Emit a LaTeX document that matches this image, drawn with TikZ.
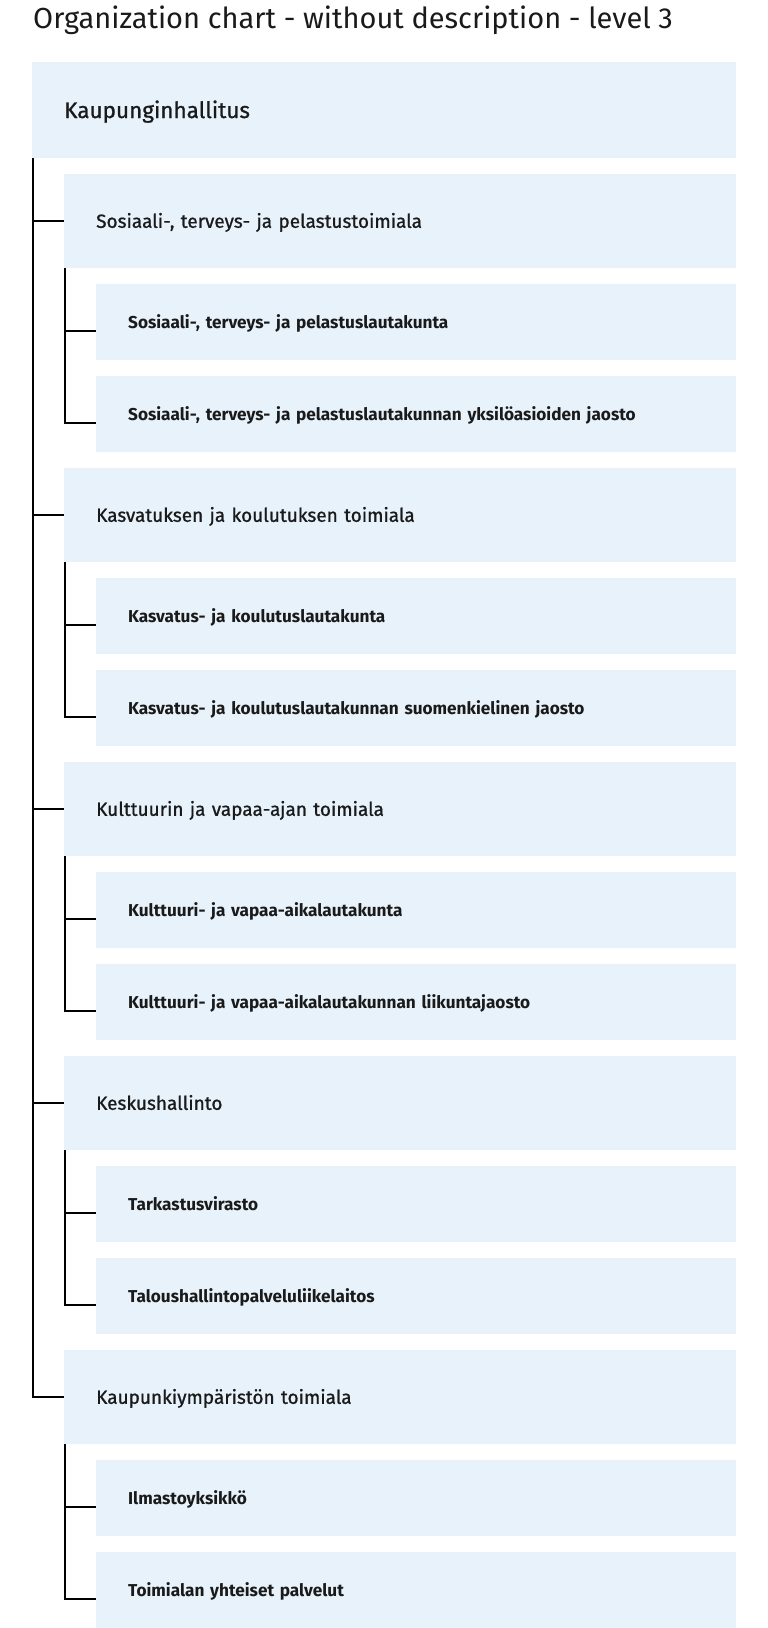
\documentclass[tikz,border=0pt]{standalone}
\usepackage{fontspec}
\setmainfont{Fira Sans}
\newfontfamily\midfont[FakeBold=0.9]{Fira Sans}
\usetikzlibrary{positioning,calc}
\definecolor{boxblue}{RGB}{231,242,251}
\definecolor{inkgray}{RGB}{26,26,26}

\begin{document}
\begin{tikzpicture}[x=1pt,y=-1pt,
    every node/.style={text=inkgray,align=left},
    unit/.style={fill=boxblue,anchor=north west,inner ysep=0pt,inner xsep=32pt,text depth=0pt},
    city/.style={unit,minimum height=96pt,text width=640pt,text height=15.6pt,font=\midfont\fontsize{22.5}{26}\selectfont},
    branch/.style={unit,minimum height=94pt,text width=608pt,text height=13.2pt,font=\midfont\fontsize{19}{22}\selectfont},
    board/.style={unit,minimum height=76pt,text width=576pt,text height=12.4pt,font=\bfseries\fontsize{17.2}{20}\selectfont},
    link/.style={black,line width=2pt}]

    \useasboundingbox (0,0) rectangle (768,1628);

    \node[anchor=base west,inner sep=0pt,font=\fontsize{29}{34}\selectfont] (title) at (33,28)
        {Organization chart - without description - level 3};

    % top level
    \node[city] (root) at (32,62) {Kaupunginhallitus};

    % divisions and their boards
    \node[branch] (sote) at (64,174) {Sosiaali-, terveys- ja pelastustoimiala};
    \node[board] (sote-a) at (96,284) {Sosiaali-, terveys- ja pelastuslautakunta};
    \node[board] (sote-b) at (96,376) {Sosiaali-, terveys- ja pelastuslautakunnan yksilöasioiden jaosto};

    \node[branch] (kasko) at (64,468) {Kasvatuksen ja koulutuksen toimiala};
    \node[board] (kasko-a) at (96,578) {Kasvatus- ja koulutuslautakunta};
    \node[board] (kasko-b) at (96,670) {Kasvatus- ja koulutuslautakunnan suomenkielinen jaosto};

    \node[branch] (kuva) at (64,762) {Kulttuurin ja vapaa-ajan toimiala};
    \node[board] (kuva-a) at (96,872) {Kulttuuri- ja vapaa-aikalautakunta};
    \node[board] (kuva-b) at (96,964) {Kulttuuri- ja vapaa-aikalautakunnan liikuntajaosto};

    \node[branch] (kesk) at (64,1056) {Keskushallinto};
    \node[board] (kesk-a) at (96,1166) {Tarkastusvirasto};
    \node[board] (kesk-b) at (96,1258) {Taloushallintopalveluliikelaitos};

    \node[branch] (kymp) at (64,1350) {Kaupunkiympäristön toimiala};
    \node[board] (kymp-a) at (96,1460) {Ilmastoyksikkö};
    \node[board] (kymp-b) at (96,1552) {Toimialan yhteiset palvelut};

    % trunk from the top level
    \draw[link] (root.south west) ++(1,0) |- ([yshift=-47pt]kymp.north west);
    \draw[link] ([yshift=-47pt]sote.north west) -- +(-32,0);
    \draw[link] ([yshift=-47pt]kasko.north west) -- +(-32,0);
    \draw[link] ([yshift=-47pt]kuva.north west) -- +(-32,0);
    \draw[link] ([yshift=-47pt]kesk.north west) -- +(-32,0);

    % branches to the boards
    \draw[link] (sote.south west) ++(1,0) |- ([yshift=-47pt]sote-b.north west);
    \draw[link] ([yshift=-47pt]sote-a.north west) -- +(-32,0);
    \draw[link] (kasko.south west) ++(1,0) |- ([yshift=-47pt]kasko-b.north west);
    \draw[link] ([yshift=-47pt]kasko-a.north west) -- +(-32,0);
    \draw[link] (kuva.south west) ++(1,0) |- ([yshift=-47pt]kuva-b.north west);
    \draw[link] ([yshift=-47pt]kuva-a.north west) -- +(-32,0);
    \draw[link] (kesk.south west) ++(1,0) |- ([yshift=-47pt]kesk-b.north west);
    \draw[link] ([yshift=-47pt]kesk-a.north west) -- +(-32,0);
    \draw[link] (kymp.south west) ++(1,0) |- ([yshift=-47pt]kymp-b.north west);
    \draw[link] ([yshift=-47pt]kymp-a.north west) -- +(-32,0);
\end{tikzpicture}
\end{document}
